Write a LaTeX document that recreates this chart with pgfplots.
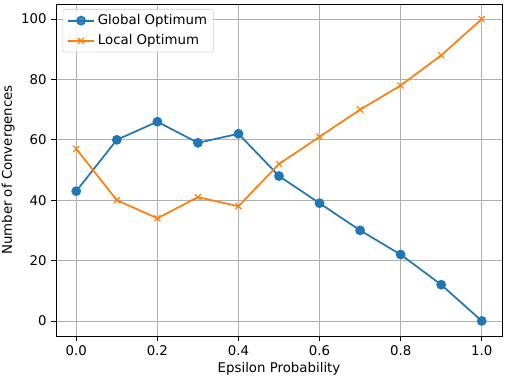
\documentclass[border=0pt]{standalone}
\usepackage{fontspec}
\setmainfont{DejaVu Sans}
\usepackage{pgfplots}
\pgfplotsset{compat=1.18}
\definecolor{mplblue}{HTML}{1F77B4}
\definecolor{mplorange}{HTML}{FF7F0E}
\definecolor{mplgrid}{HTML}{B0B0B0}

\pgfplotstableread{
eps global local
0.0 43 57
0.1 60 40
0.2 66 34
0.3 59 41
0.4 62 38
0.5 48 52
0.6 39 61
0.7 30 70
0.8 22 78
0.9 12 88
1.0 0 100
}\conv

\begin{document}
\fontsize{10}{12}\selectfont
\begin{tikzpicture}
\begin{axis}[
  scale only axis,
  width=334.5pt, height=249pt,
  xmin=-0.05, xmax=1.05,
  ymin=-5, ymax=105,
  xtick={0,0.2,0.4,0.6,0.8,1.0},
  ytick={0,20,40,60,80,100},
  xticklabel style={/pgf/number format/.cd, fixed, fixed zerofill, precision=1},
  /pgf/number format/assume math mode=true,
  tick align=outside,
  tick pos=left,
  major tick length=3.5pt,
  tick style={black, line width=0.6pt},
  axis line style={black, line width=0.6pt},
  grid=major,
  grid style={mplgrid, line width=0.6pt},
  xlabel={Epsilon Probability},
  ylabel={Number of Convergences},
  xlabel style={yshift=2pt},
  ylabel style={yshift=-2pt},
  legend cell align=left,
  legend style={draw=gray!40, rounded corners=2pt, fill=white, fill opacity=0.8, text opacity=1,
    font=\fontsize{10}{12}\selectfont, at={(0.015,0.985)}, anchor=north west, row sep=2pt},
  legend image code/.code={
    \draw[mark repeat=2,mark phase=2,#1] plot coordinates {(0cm,0cm) (0.35cm,0cm) (0.7cm,0cm)};
  },
]
\addplot[mplblue, line width=1.3pt, mark=*, mark size=3pt] table[x=eps, y=global] {\conv};
\addlegendentry{Global Optimum}
\addplot[mplorange, line width=1.3pt, mark=x, mark size=3.2pt, mark options={line width=0.9pt}] table[x=eps, y=local] {\conv};
\addlegendentry{Local Optimum}
\end{axis}
\pgfresetboundingbox
\path[use as bounding box] ([xshift=-42pt, yshift=-32.25pt]current axis.south west) rectangle ([xshift=9pt, yshift=3pt]current axis.north east);
\end{tikzpicture}
\end{document}
